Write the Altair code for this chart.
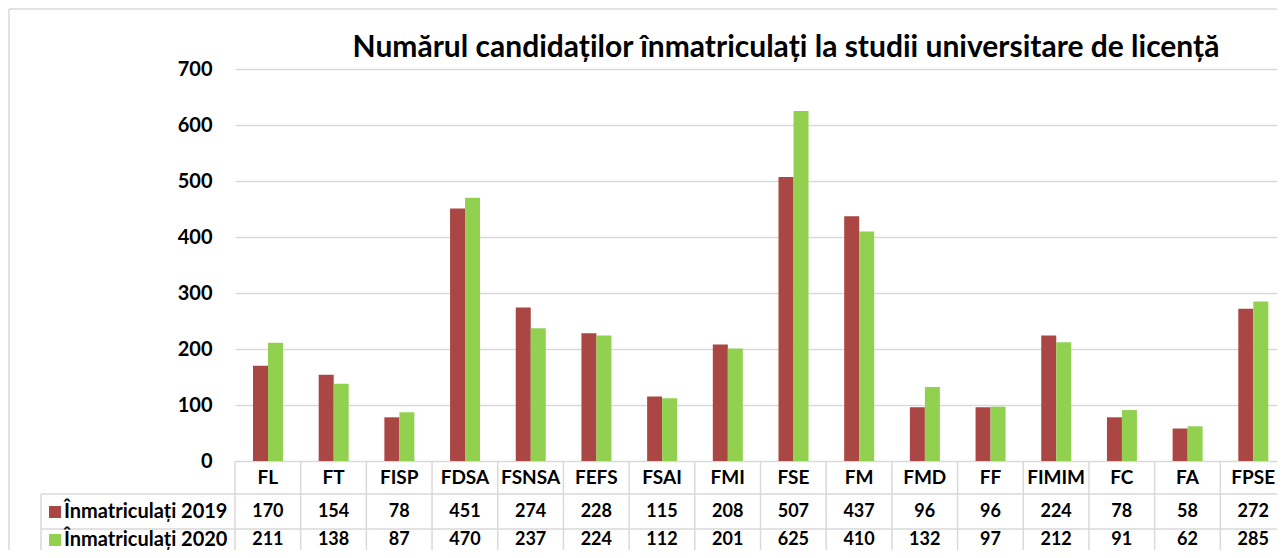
import altair as alt
import pandas as pd

categories = ["FL", "FT", "FISP", "FDSA", "FSNSA", "FEFS", "FSAI", "FMI",
              "FSE", "FM", "FMD", "FF", "FIMIM", "FC", "FA", "FPSE"]
series_names = ["Înmatriculați 2019", "Înmatriculați 2020"]
values_2019 = [170, 154, 78, 451, 274, 228, 115, 208, 507, 437, 96, 96, 224, 78, 58, 272]
values_2020 = [211, 138, 87, 470, 237, 224, 112, 201, 625, 410, 132, 97, 212, 91, 62, 285]
y_ticks = [0, 100, 200, 300, 400, 500, 600, 700]
title_text = "Numărul candidaților înmatriculați la studii universitare de licență"

colors = ["#AA4643", "#92D050"]
FONT = "Lato"
GRID = "#D9D9D9"
FULLW = 1051          # full width of the 16 category bands (runs slightly past the window)
W, H = 1042, 392      # visible plot width / height

long_df = pd.DataFrame(
    [{"cat": c, "series": series_names[0], "value": v} for c, v in zip(categories, values_2019)]
    + [{"cat": c, "series": series_names[1], "value": v} for c, v in zip(categories, values_2020)]
)
cat_df = pd.DataFrame({"cat": categories, "v2019": values_2019, "v2020": values_2020})
leg_df = pd.DataFrame({"series": series_names, "row": [0, 1]})

xscale = alt.Scale(domain=categories, range=[0, FULLW], paddingInner=0, paddingOuter=0)
color_scale = alt.Scale(domain=series_names, range=colors)

bars = alt.Chart(long_df).mark_bar().encode(
    x=alt.X("cat:N", sort=categories, scale=xscale, axis=None),
    xOffset=alt.XOffset("series:N", sort=series_names,
                        scale=alt.Scale(domain=series_names, range=[18, 48],
                                        paddingInner=0, paddingOuter=0)),
    y=alt.Y("value:Q", scale=alt.Scale(domain=[0, 700], nice=False),
            axis=alt.Axis(values=y_ticks, title=None, ticks=False, domain=False,
                          labelFont=FONT, labelFontSize=20, labelFontWeight="bold",
                          labelColor="#000000", labelPadding=23,
                          gridColor=GRID, gridWidth=1.3)),
    color=alt.Color("series:N", scale=color_scale, legend=None),
)

ROW_Y = [409, 443, 471]

def row_text(field, ypos, size):
    return alt.Chart(cat_df).mark_text(font=FONT, fontSize=size, fontWeight="bold",
                                       color="#000000", baseline="middle").encode(
        x=alt.X("cat:N", sort=categories, scale=xscale, axis=None),
        y=alt.value(ypos),
        text=alt.Text(field),
    )

header = row_text("cat:N", ROW_Y[0], 19)
row1 = row_text("v2019:Q", ROW_Y[1], 18)
row2 = row_text("v2020:Q", ROW_Y[2], 18)

vlines = alt.Chart(cat_df).mark_rule(color=GRID, strokeWidth=1.5).encode(
    x=alt.X("cat:N", sort=categories, scale=xscale, axis=None, bandPosition=0),
    y=alt.value(H),
    y2=alt.value(H + 140),
)

one = cat_df.head(1)
hline1 = alt.Chart(one).mark_rule(color=GRID, strokeWidth=1.5).encode(
    x=alt.value(-194), x2=alt.value(FULLW), y=alt.value(425))
hline2 = alt.Chart(one).mark_rule(color=GRID, strokeWidth=1.5).encode(
    x=alt.value(-194), x2=alt.value(FULLW), y=alt.value(460))
vleft = alt.Chart(one).mark_rule(color=GRID, strokeWidth=1.5).encode(
    x=alt.value(-194), y=alt.value(425), y2=alt.value(H + 140))
border_v = alt.Chart(one).mark_rule(color=GRID, strokeWidth=1.5).encode(
    x=alt.value(-226), y=alt.value(-60), y2=alt.value(H + 140))
border_h = alt.Chart(one).mark_rule(color=GRID, strokeWidth=1.5).encode(
    x=alt.value(-226), x2=alt.value(FULLW), y=alt.value(-60))

leg_y = alt.Y("row:Q", scale=alt.Scale(domain=[0, 1], range=[ROW_Y[1], ROW_Y[2]]), axis=None)
leg_sq = alt.Chart(leg_df).mark_square(size=144, opacity=1).encode(
    x=alt.value(-180),
    y=leg_y,
    color=alt.Color("series:N", scale=color_scale, legend=None),
)
leg_txt = alt.Chart(leg_df).mark_text(font=FONT, fontSize=20, fontWeight="bold",
                                      color="#000000", align="left", baseline="middle").encode(
    x=alt.value(-171),
    y=leg_y,
    text="series:N",
)

title = alt.Chart(one).mark_text(font=FONT, fontSize=30, fontWeight="bold",
                                 color="#000000", baseline="middle").encode(
    x=alt.value(551), y=alt.value(-21), text=alt.value(title_text))

chart = alt.layer(
    bars, header, row1, row2, vlines, hline1, hline2, vleft, border_v, border_h,
    leg_sq, leg_txt, title
).resolve_scale(y="independent").properties(
    width=W, height=H,
    padding={"left": 227, "top": 61, "right": 0, "bottom": 89},
    autosize=alt.AutoSizeParams(type="none"),
).configure_view(stroke=None)

chart.save("out.html", embed_options={"renderer": "svg", "actions": False})
